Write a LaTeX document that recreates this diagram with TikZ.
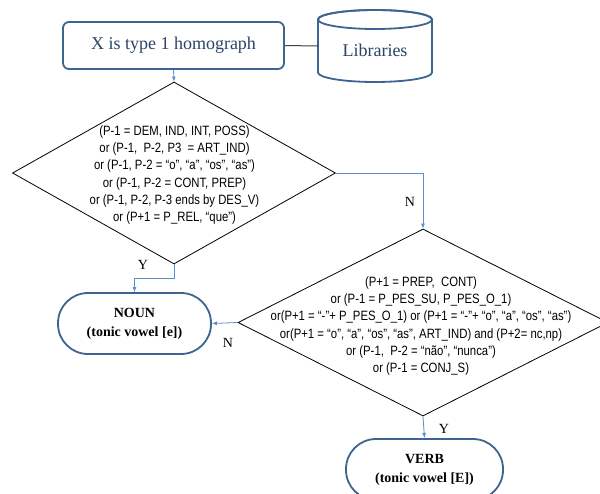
\documentclass[tikz,border=0pt]{standalone}
\usepackage{fontspec}
\setmainfont{Liberation Serif}
\newfontfamily\diafont[FakeStretch=0.84]{Liberation Sans}
\usetikzlibrary{shapes.geometric,arrows.meta}
\definecolor{boxborder}{HTML}{3D6591}
\definecolor{conn}{HTML}{5B8ED0}
\definecolor{boxtext}{HTML}{2A4468}
\definecolor{grayline}{HTML}{404040}
\tikzset{
  procbox/.style={draw=boxborder, line width=1.8pt, rounded corners=6pt, fill=white, inner sep=0pt,
    font=\fontsize{18}{22}\selectfont, text=boxtext},
  termbox/.style={draw=boxborder, line width=1.8pt, rounded corners=30pt, fill=white, inner sep=0pt,
    align=center, font=\fontsize{14}{19}\selectfont\bfseries},
  decision/.style={draw=black, line width=0.8pt, shape=diamond, inner sep=0pt},
  diatext/.style={align=center, font=\diafont\fontsize{13.5}{17.2}\selectfont},
  conn/.style={draw=conn, line width=0.8pt, -{Latex[length=5pt,width=4pt]}},
  lbl/.style={font=\fontsize{14}{16}\selectfont, inner sep=0pt},
}
\begin{document}
\begin{tikzpicture}[x=1pt,y=-1pt]
\useasboundingbox (0,0) rectangle (600,493);
\fill[white] (0,0) rectangle (600,493);

% top box
\node[procbox, minimum width=221pt, minimum height=47pt] (start) at (173.5,45.5) {X is type 1 homograph};

% cylinder
\node[minimum width=114pt, minimum height=72pt, inner sep=0pt] (lib) at (375,46) {};
\draw[boxborder, line width=1.8pt, fill=white]
  (318,19.5) -- (318,72.5) arc[start angle=180, end angle=360, x radius=57pt, y radius=9.5pt]
  -- (432,19.5) arc[start angle=0, end angle=-180, x radius=57pt, y radius=-9.5pt];
\draw[boxborder, line width=1.8pt] (375,19.5) ellipse[x radius=57pt, y radius=9.5pt];
\node[text=boxtext, font=\fontsize{18}{22}\selectfont] at (375,50) {Libraries};

\draw[grayline, line width=1pt] (start.east) -- (lib.west);

% decision 1
\node[decision, minimum width=323pt, minimum height=182pt] (d1) at (174,173) {};
\node[diatext] at (174.5,175) {(P-1 = DEM, IND, INT, POSS)\\
or (P-1, \ P-2, P3 \ = ART\_IND)\\
or (P-1, P-2 = “o”, “a”, “os”, “as”)\\
or (P-1, P-2 = CONT, PREP)\\
or (P-1, P-2, P-3 ends by DES\_V)\\
or (P+1 = P\_REL, “que”)};

% decision 2
\node[decision, minimum width=370pt, minimum height=187pt] (d2) at (423,322.5) {};
\node[diatext] at (421,326) {(P+1 = PREP, \ CONT)\\
or (P-1 = P\_PES\_SU, P\_PES\_O\_1)\\
or(P+1 = “-”+ P\_PES\_O\_1) or (P+1 = “-”+ “o”, “a”, “os”, “as”)\\
or(P+1 = “o”, “a”, “os”, “as”, ART\_IND) and (P+2= nc,np)\\
or (P-1, \ P-2 = “não”, “nunca”)\\
or (P-1 = CONJ\_S)};

% terminals
\node[termbox, minimum width=153pt, minimum height=61pt] (noun) at (134.5,323.5) {NOUN\\(tonic vowel [e])};
\node[termbox, minimum width=157pt, minimum height=61pt] (verb) at (424.5,469.5) {VERB\\(tonic vowel [E])};

% connectors
\draw[conn] (start.south) -- (d1.north);
\draw[conn] (d1.east) -| (d2.north);
\draw[conn] (d1.south) -- ++(0,14) -| (noun.north);
\draw[conn] (d2.west) -- (noun.east);
\draw[conn] (d2.south) -- (verb.north);

% labels
\node[lbl] at (410,202) {N};
\node[lbl] at (143,265) {Y};
\node[lbl] at (228,343) {N};
\node[lbl] at (444,429) {Y};
\end{tikzpicture}
\end{document}
